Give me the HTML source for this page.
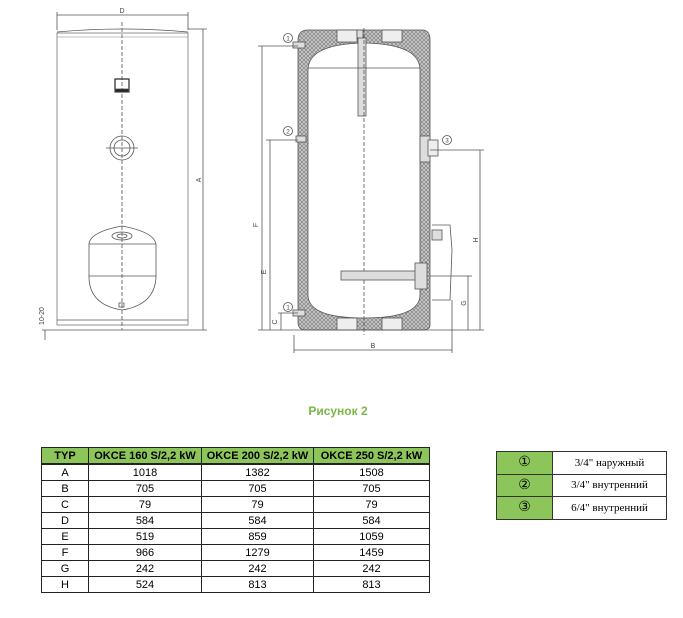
<!DOCTYPE html>
<html><head><meta charset="utf-8"><style>
body{margin:0;background:#fff;width:683px;height:618px;position:relative;overflow:hidden;font-family:"Liberation Sans",sans-serif}
svg{position:absolute;left:0;top:0}
.t{position:absolute;border-collapse:collapse;font-family:"Liberation Sans",sans-serif;font-size:11px}
.t td{border:1px solid #222;text-align:center;padding:0;height:15px;line-height:14px}
.t tr.h td{background:#8cc65a;font-weight:bold;border-bottom:2px solid #222}
.l{position:absolute;left:496px;top:451px;border-collapse:collapse;font-family:"Liberation Serif","DejaVu Serif",serif;font-size:11px}
.l td{border:1px solid #333;height:21.5px;padding:0;text-align:center}
.l td.g{background:#8cc65a;width:55px;font-size:14px}
.l td.v{width:113px}
</style></head><body>
<svg width="683" height="618" viewBox="0 0 683 618">
<defs>
<pattern id="hx" width="4" height="4" patternUnits="userSpaceOnUse">
<rect width="4" height="4" fill="#c8c8c8"/><path d="M0 0L4 4M4 0L0 4" stroke="#777" stroke-width="0.6"/>
</pattern>
</defs>
<g stroke="#555" fill="none" stroke-width="0.8">
<line x1="57" y1="15" x2="188" y2="15"/><line x1="57" y1="12" x2="57" y2="30"/><line x1="188" y1="12" x2="188" y2="30"/>
<path d="M57 32 Q122 26 188 32"/>
<rect x="57" y="33" width="131" height="292" stroke="#777"/>
<line x1="57" y1="37" x2="188" y2="37" stroke="#aaa"/>
<line x1="57" y1="320" x2="188" y2="320"/>
<line x1="122" y1="22" x2="122" y2="330" stroke-dasharray="4 2"/>
<rect x="115" y="79" width="14" height="13" stroke="#222" stroke-width="1.2"/>
<rect x="115" y="89" width="14" height="3" fill="#222"/>
<circle cx="122" cy="148" r="12"/><circle cx="122" cy="148" r="8"/>
<line x1="106" y1="148" x2="138" y2="148"/>
<path d="M89 244 Q90 232 122 226 Q154 232 156 244 L156 275 L156 278 Q154 305 122 310 Q90 305 89 278 Z"/>
<line x1="89" y1="244" x2="156" y2="244"/><line x1="89" y1="276" x2="156" y2="276"/>
<ellipse cx="122" cy="236" rx="10" ry="4"/><ellipse cx="122" cy="236" rx="5" ry="2"/>
<rect x="119" y="303" width="5" height="4"/>
<line x1="42" y1="330" x2="188" y2="330"/>
<line x1="45" y1="330" x2="45" y2="340"/>
<line x1="203" y1="29" x2="203" y2="330"/><line x1="188" y1="29" x2="207" y2="29"/><line x1="188" y1="330" x2="207" y2="330"/>
<path d="M298 40 Q298 30 308 30 L422 30 Q430 30 430 40 L430 325 Q430 330 422 330 L306 330 Q298 330 298 322 Z" fill="url(#hx)" stroke="#555"/>
<path d="M308 70 Q308 44 364 43 Q420 44 420 70 L420 295 Q420 318 364 318 Q308 318 308 295 Z" fill="#fff" stroke="#555"/>
<rect x="337" y="30" width="20" height="12" fill="#eee"/><rect x="382" y="30" width="20" height="12" fill="#eee"/>
<rect x="337" y="318" width="20" height="12" fill="#eee"/><rect x="382" y="318" width="20" height="12" fill="#eee"/>
<rect x="357" y="30" width="6" height="8" fill="#ddd"/>
<rect x="358" y="38" width="8" height="78" fill="#ddd"/>
<line x1="308" y1="68" x2="420" y2="68"/>
<line x1="364" y1="28" x2="364" y2="335" stroke-dasharray="4 2"/>
<rect x="341" y="271" width="80" height="9" fill="#ddd"/>
<rect x="415" y="263" width="12" height="26" fill="#ddd"/>
<rect x="420" y="136" width="10" height="26" fill="#ddd"/>
<rect x="428" y="140" width="10" height="16" fill="#eee"/>
<path d="M432 225 L450 225 L452 250 L450 300 L432 300"/>
<rect x="432" y="230" width="10" height="10" fill="#ddd"/>
<rect x="293" y="42" width="12" height="6" fill="#ddd"/><rect x="296" y="136" width="10" height="6" fill="#ddd"/>
<rect x="293" y="310" width="12" height="6" fill="#ddd"/>
<line x1="262" y1="46" x2="262" y2="330"/><line x1="258" y1="46" x2="298" y2="46"/>
<line x1="270" y1="140" x2="270" y2="330"/><line x1="266" y1="140" x2="298" y2="140"/>
<line x1="281" y1="313" x2="281" y2="330"/><line x1="278" y1="313" x2="298" y2="313"/>
<line x1="258" y1="330" x2="484" y2="330"/>
<line x1="480" y1="150" x2="480" y2="330"/><line x1="430" y1="150" x2="484" y2="150"/>
<line x1="468" y1="276" x2="468" y2="330"/><line x1="430" y1="276" x2="472" y2="276"/>
<line x1="294" y1="350" x2="452" y2="350"/><line x1="294" y1="335" x2="294" y2="353"/><line x1="452" y1="300" x2="452" y2="353"/>
<circle cx="288" cy="38" r="4.5"/><circle cx="288" cy="131" r="4.5"/><circle cx="288" cy="307" r="4.5"/><circle cx="447" cy="140" r="4.5"/>
</g>
<g font-family="Liberation Sans,sans-serif" font-size="7" fill="#444" text-anchor="middle">
<text x="122" y="13">D</text>
<text x="201" y="180" transform="rotate(-90 201 180)">A</text>
<text x="44" y="316" transform="rotate(-90 44 316)">10-20</text>
<text x="258" y="225" transform="rotate(-90 258 225)">F</text>
<text x="266" y="272" transform="rotate(-90 266 272)">E</text>
<text x="277" y="322" transform="rotate(-90 277 322)">C</text>
<text x="478" y="240" transform="rotate(-90 478 240)">H</text>
<text x="466" y="303" transform="rotate(-90 466 303)">G</text>
<text x="373" y="348">B</text>
<text x="288" y="40.5" font-size="6">1</text><text x="288" y="133.5" font-size="6">2</text><text x="288" y="309.5" font-size="6">1</text><text x="447" y="142.5" font-size="6">3</text>
</g>
<text x="338" y="415" font-family="Liberation Sans,sans-serif" font-size="12" font-weight="bold" fill="#7ab648" text-anchor="middle">Рисунок 2</text>
</svg>
<table class="t" style="left:41px;top:447px;width:389px">
<tr class="h"><td style="width:46px">TYP</td><td style="width:112px">OKCE 160 S/2,2 kW</td><td style="width:111px">OKCE 200 S/2,2 kW</td><td>OKCE 250 S/2,2 kW</td></tr>
<tr><td>A</td><td>1018</td><td>1382</td><td>1508</td></tr>
<tr><td>B</td><td>705</td><td>705</td><td>705</td></tr>
<tr><td>C</td><td>79</td><td>79</td><td>79</td></tr>
<tr><td>D</td><td>584</td><td>584</td><td>584</td></tr>
<tr><td>E</td><td>519</td><td>859</td><td>1059</td></tr>
<tr><td>F</td><td>966</td><td>1279</td><td>1459</td></tr>
<tr><td>G</td><td>242</td><td>242</td><td>242</td></tr>
<tr><td>H</td><td>524</td><td>813</td><td>813</td></tr>
</table>
<table class="l">
<tr><td class="g">①</td><td class="v">3/4" наружный</td></tr>
<tr><td class="g">②</td><td class="v">3/4" внутренний</td></tr>
<tr><td class="g">③</td><td class="v">6/4" внутренний</td></tr>
</table>
</body></html>
